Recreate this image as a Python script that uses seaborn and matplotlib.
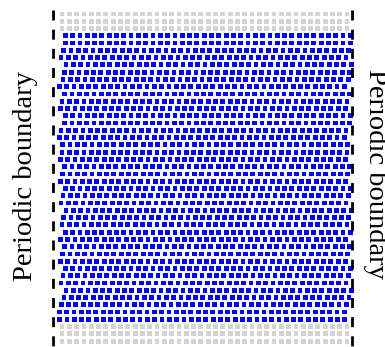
import numpy as np
import pandas as pd
import matplotlib
matplotlib.use("Agg")
import matplotlib.pyplot as plt
import seaborn as sns

# ---- data ----
n_cols = 40
n_blue_rows = 40
n_gray_rows_top = 3
n_gray_rows_bottom = 3
# horizontal shift of each blue row, in lattice spacings (top to bottom)
row_shift = [0.45, 0.45, 0.23, -0.14, 0.55, 0.32, 0.14, -0.37, 0.37, 0.0, -0.23, 0.45,
             0.37, -0.14, -0.37, 0.10, 0.0, -0.23, 0.37, 0.10, -0.23, 0.45, 0.14, -0.14,
             0.55, 0.23, 0.0,
             0.45, -0.23, 0.37, 0.10, -0.23, 0.45, 0.14, -0.14, 0.55, 0.27, -0.10, -0.37, -0.32]
label_text = "Periodic boundary"

# ---- build table ----
recs = []
r = 0
for i in range(n_gray_rows_top):
    for c in range(n_cols):
        recs.append((c, r, "fixed"))
    r += 1
for k in range(n_blue_rows):
    for c in range(n_cols):
        recs.append((c + row_shift[k], r, "free"))
    r += 1
for i in range(n_gray_rows_bottom):
    for c in range(n_cols):
        recs.append((c, r, "fixed"))
    r += 1
df = pd.DataFrame(recs, columns=["x", "y", "kind"])

W, H = 385, 347
fig = plt.figure(figsize=(W / 100, H / 100), dpi=100)
ax = fig.add_axes([0, 0, 1, 1])

dx = 7.31   # px per column
dy = 7.27   # px per row
x0 = 62.0   # px of column 0
y0 = 14.0   # px of row 0

sns.scatterplot(data=df, x="x", y="y", hue="kind", palette={"fixed": "#d4d4d4", "free": "#0000ff"},
                marker="s", s=12, linewidth=0, legend=False, ax=ax)
ax.set_ylim((H - y0) / dy, -y0 / dy)
ax.set_xlim(-x0 / dx, (W - x0) / dx)

for xp in (53, 352):
    xd = (xp - x0) / dx
    ax.plot([xd, xd], [(10 - y0) / dy, (H + 5 - y0) / dy], color="black", lw=2,
            dashes=(3.6, 3.3), solid_capstyle="butt", dash_capstyle="butt")

ax.axis("off")

fig.text(32 / W, 1 - 176 / H, label_text, rotation=90, rotation_mode="anchor",
         ha="center", va="baseline", fontsize=20.5, family="Liberation Serif")
fig.text(369 / W, 1 - 174 / H, label_text, rotation=-90, rotation_mode="anchor",
         ha="center", va="baseline", fontsize=20.5, family="Liberation Serif")

fig.savefig("out.png", dpi=100)
